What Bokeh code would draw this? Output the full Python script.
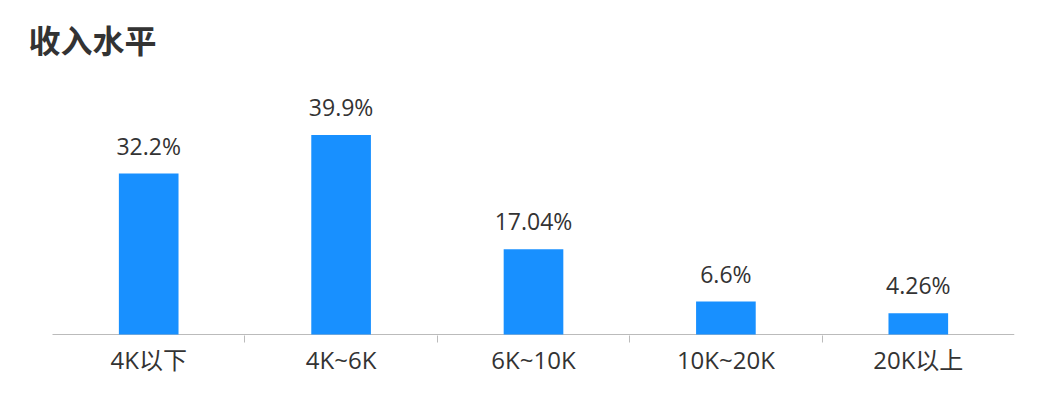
from bokeh.plotting import figure
from bokeh.models import ColumnDataSource, FixedTicker, Range1d
from bokeh.core.properties import value
from bokeh.embed import file_html
from bokeh.resources import INLINE

categories = ["4K以下", "4K~6K", "6K~10K", "10K~20K", "20K以上"]
values = [32.2, 39.9, 17.04, 6.6, 4.26]
value_labels = ["32.2%", "39.9%", "17.04%", "6.6%", "4.26%"]
title_text = "收入水平"

CJK = "Noto Sans CJK SC"
FONT = "Open Sans, Noto Sans CJK SC"
BLUE = "#1890FF"

# layout (pixels)
W, H = 1026, 396
PAD_L = 52          # left gap before the axis baseline
BORDER_R = 12
BORDER_T = 4
BORDER_B = 61
PX_PER_CAT = (W - BORDER_R - PAD_L) / len(categories)
PX_PER_UNIT = 5.0
Y_PAD = 1 / PX_PER_UNIT

x_start = -PAD_L / PX_PER_CAT
y_top = (H - BORDER_T - BORDER_B) / PX_PER_UNIT - Y_PAD

xs = [i + 0.5 for i in range(len(categories))]
src = ColumnDataSource(dict(x=xs, top=values, label=value_labels))

p = figure(width=W, height=H, output_backend="svg", toolbar_location=None, title=None,
           x_range=Range1d(x_start, len(categories)), y_range=Range1d(-Y_PAD, y_top),
           min_border_left=0, min_border_right=BORDER_R,
           min_border_top=BORDER_T, min_border_bottom=BORDER_B)

# baseline of the category axis
p.segment(x0=[0], y0=[0], x1=[len(categories)], y1=[0], line_color="#bbbbbb", line_width=1)

p.vbar(x="x", top="top", bottom=0, width=0.31, source=src, color=BLUE, line_color=None)
p.text(x="x", y="top", text="label", source=src, text_align="center", text_baseline="bottom",
       y_offset=-12, text_font=value(FONT), text_font_size="23px", text_color="#333333")

# chart title, top-left
title_x = x_start + 28 / PX_PER_CAT
title_y = (334 - 38.5) / PX_PER_UNIT
p.text(x=[title_x], y=[title_y], text=[title_text], text_align="left", text_baseline="middle",
       text_font=value(CJK), text_font_size="32px", text_font_style="bold", text_color="#333333")

p.yaxis.visible = False
p.xgrid.visible = False
p.ygrid.visible = False
p.outline_line_color = None
p.background_fill_color = "white"
p.border_fill_color = "white"

ax = p.xaxis[0]
ax.ticker = FixedTicker(ticks=xs, minor_ticks=[1, 2, 3, 4])
ax.major_label_overrides = {x: c for x, c in zip(xs, categories)}
ax.axis_line_color = None
ax.major_tick_line_color = None
ax.major_tick_in = 0
ax.major_tick_out = 0
ax.minor_tick_in = 0
ax.minor_tick_out = 7
ax.minor_tick_line_color = "#bbbbbb"
ax.major_label_text_font = FONT
ax.major_label_text_font_size = "24px"
ax.major_label_text_color = "#333333"
ax.major_label_standoff = 0

open("out.html", "w").write(file_html(p, INLINE))
